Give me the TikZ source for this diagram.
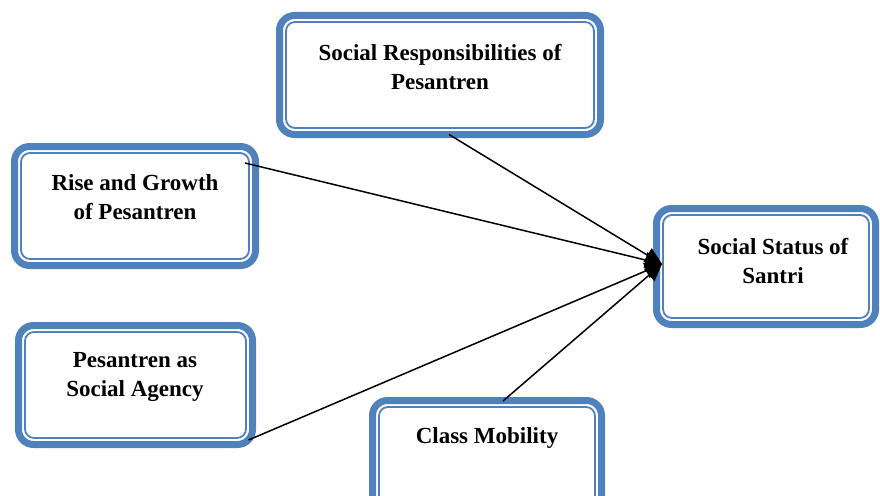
\documentclass[tikz,border=0pt]{standalone}
\usepackage{fontspec}
\setmainfont{Liberation Serif}
\usetikzlibrary{arrows.meta}
\definecolor{boxblue}{RGB}{79,129,189}
\begin{document}
\begin{tikzpicture}[x=1pt,y=-1pt,
  framebox/.style={draw=boxblue, line width=7pt, rounded corners=15pt, fill=white,
    inner sep=0pt, outer sep=0pt},
  innerline/.style={draw=boxblue, line width=1.8pt, rounded corners=9pt},
  lbl/.style={align=center, font=\bfseries\fontsize{23}{29}\selectfont, inner sep=0pt},
  conn/.style={line width=1.5pt, -{Triangle[length=17pt,width=16pt]}}]
\useasboundingbox (0,0) rectangle (880,495);
\fill[white] (0,0) rectangle (880,495);
% boxes
\node[framebox, minimum width=321pt, minimum height=119pt] (sr) at (440,75) {};
\node[framebox, minimum width=241pt, minimum height=119pt] (rg) at (135,206) {};
\node[framebox, minimum width=219pt, minimum height=116pt] (ss) at (766,266.5) {};
\node[framebox, minimum width=234pt, minimum height=119pt] (pa) at (135.5,385) {};
\node[framebox, minimum width=229pt, minimum height=118pt] (cm) at (487,459.5) {};
% inner thin lines
\foreach \n in {sr,rg,ss,pa,cm}{
  \draw[innerline] ([xshift=6.5pt,yshift=-6.5pt]\n.north west) rectangle ([xshift=-6.5pt,yshift=6.5pt]\n.south east);
}
% labels
\node[lbl] (srt) at (440,67.5) {Social Responsibilities of\\Pesantren};
\node[lbl] (rgt) at (135,197.5) {Rise and Growth\\of Pesantren};
\node[lbl] (sst) at (773,261) {Social Status of\\Santri};
\node[lbl] (pat) at (135,377.5) {Pesantren as\\Social Agency};
\node[lbl] (cmt) at (487,438) {Class Mobility};
% connectors
\coordinate (tip) at ([xshift=5.5pt,yshift=2.5pt]ss.west);
\draw[conn] ([xshift=-10.5pt,yshift=-16.5pt]rg.north east) -- (tip);
\draw[conn] ([xshift=9pt]sr.south) -- (tip);
\draw[conn] ([xshift=-4pt,yshift=4.5pt]pa.south east) -- (tip);
\draw[conn] ([xshift=16pt,yshift=-0.5pt]cm.north) -- (tip);
\end{tikzpicture}
\end{document}
